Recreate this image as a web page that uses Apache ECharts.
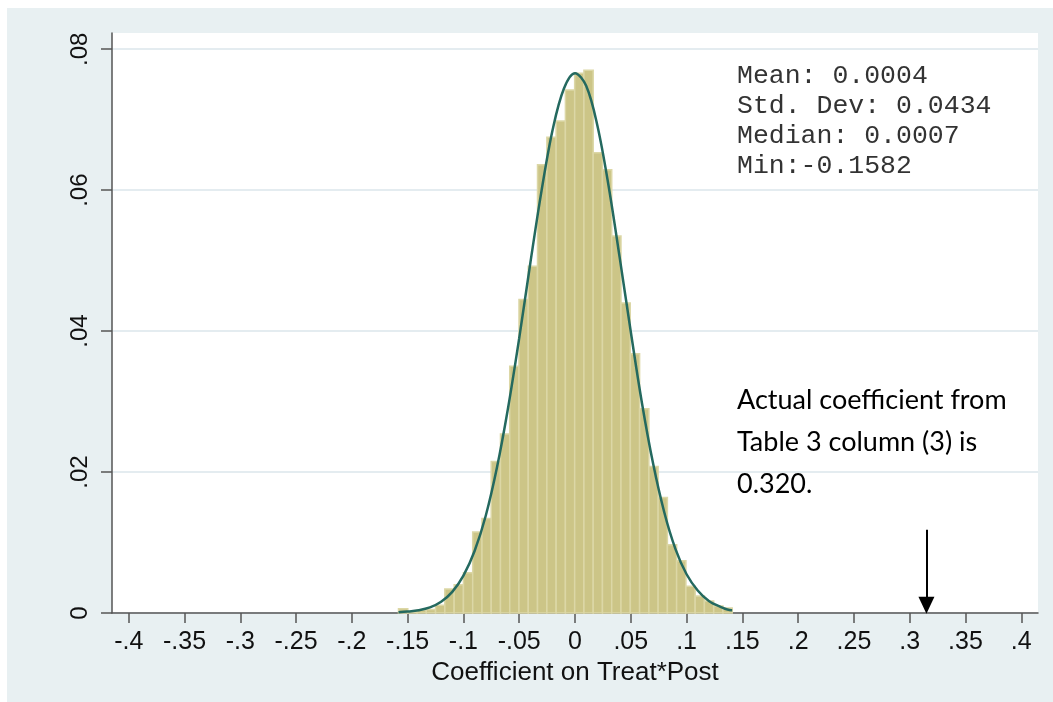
<!DOCTYPE html>
<html>
<head>
<meta charset="utf-8">
<script src="https://cdn.jsdelivr.net/npm/echarts@6/dist/echarts.min.js"></script>
<style>
  html, body { margin: 0; padding: 0; background: #fff; }
  #chart { width: 1053px; height: 702px; }
</style>
</head>
<body>
<div id="chart"></div>
<script>
// histogram bins: lower edge of each bin and fraction of draws in it
var binWidth = 0.00831;
var binEdges = [
  -0.1582, -0.1499, -0.1416, -0.1333, -0.1250, -0.1167, -0.1083, -0.1000, -0.0917,
  -0.0834, -0.0751, -0.0668, -0.0585, -0.0502, -0.0419, -0.0336, -0.0252, -0.0169,
  -0.0086, -0.0003, 0.0080, 0.0163, 0.0246, 0.0329, 0.0412, 0.0496, 0.0579,
  0.0662, 0.0745, 0.0828, 0.0911, 0.0994, 0.1077, 0.1160, 0.1243, 0.1326
];
var binFrac = [
  0.0006, 0.0002, 0.0004, 0.0005, 0.0011, 0.0034, 0.0040, 0.0057, 0.0115,
  0.0134, 0.0215, 0.0254, 0.0350, 0.0445, 0.0492, 0.0636, 0.0675, 0.0698,
  0.0742, 0.0766, 0.0770, 0.0653, 0.0629, 0.0535, 0.0440, 0.0368, 0.0290,
  0.0208, 0.0164, 0.0097, 0.0074, 0.0038, 0.0024, 0.0017, 0.0010, 0.0007
];

// normal density overlay
var curveX = [
  -0.1582, -0.15, -0.14, -0.13, -0.12, -0.11, -0.10, -0.09, -0.08, -0.07, -0.06,
  -0.05, -0.04, -0.03, -0.02, -0.01, 0, 0.01, 0.02, 0.03, 0.04, 0.05,
  0.06, 0.07, 0.08, 0.09, 0.10, 0.11, 0.12, 0.13, 0.14, 0.1409
];
var curveY = [
  0.0001, 0.0002, 0.0004, 0.0008, 0.0016, 0.0030, 0.0053, 0.0088, 0.0138, 0.0206, 0.0291,
  0.0390, 0.0497, 0.0599, 0.0686, 0.0744, 0.0766, 0.0748, 0.0692, 0.0607, 0.0505, 0.0399,
  0.0298, 0.0212, 0.0143, 0.0091, 0.0055, 0.0032, 0.0017, 0.0009, 0.0004, 0.0004
];

// axis ticks
var xTicks = [-0.4, -0.35, -0.3, -0.25, -0.2, -0.15, -0.1, -0.05, 0, 0.05, 0.1, 0.15, 0.2, 0.25, 0.3, 0.35, 0.4];
var xTickLabels = ['-.4', '-.35', '-.3', '-.25', '-.2', '-.15', '-.1', '-.05', '0', '.05', '.1', '.15', '.2', '.25', '.3', '.35', '.4'];
var yTicks = [0, 0.02, 0.04, 0.06, 0.08];
var yTickLabels = ['0', '.02', '.04', '.06', '.08'];

// arrow marking the actual coefficient
var arrowX = 0.315;
var arrowTop = 0.0118;
var arrowTip = 0.0011;

var statsText = 'Mean: 0.0004\nStd. Dev: 0.0434\nMedian: 0.0007\nMin:-0.1582';
var noteText = 'Actual coefficient from\nTable 3 column (3) is\n0.320.';

function pickLabel(ticks, labels) {
  return function (v) {
    for (var i = 0; i < ticks.length; i++) {
      if (Math.abs(ticks[i] - v) < 1e-9) return labels[i];
    }
    return '';
  };
}

var chart = echarts.init(document.getElementById('chart'), null, { renderer: 'canvas' });

var axisFont = 'Liberation Sans, Arial, sans-serif';

chart.setOption({
  animation: false,
  backgroundColor: '#e8f0f2',
  grid: {
    left: 112, top: 33, right: 15, bottom: 89,
    show: true, backgroundColor: '#ffffff', borderWidth: 0
  },
  xAxis: {
    type: 'value',
    min: -0.415, max: 0.415,
    name: 'Coefficient on Treat*Post',
    nameLocation: 'middle',
    nameGap: 40,
    nameTextStyle: { fontFamily: axisFont, fontSize: 26, color: '#111' },
    axisLine: { show: true, onZero: false, lineStyle: { color: '#555', width: 1.5 } },
    axisTick: { show: true, length: 10, customValues: xTicks, lineStyle: { color: '#555', width: 1.5 } },
    axisLabel: {
      customValues: xTicks, margin: 17,
      fontFamily: axisFont, fontSize: 25, color: '#111',
      formatter: pickLabel(xTicks, xTickLabels)
    },
    splitLine: { show: false }
  },
  yAxis: {
    type: 'value',
    min: 0, max: 0.0823, interval: 0.02,
    axisLine: { show: true, onZero: false, lineStyle: { color: '#555', width: 1.5 } },
    axisTick: { show: true, length: 11, customValues: yTicks, lineStyle: { color: '#555', width: 1.5 } },
    axisLabel: {
      customValues: yTicks, rotate: 90, margin: 20,
      fontFamily: axisFont, fontSize: 24, color: '#111',
      formatter: pickLabel(yTicks, yTickLabels)
    },
    splitLine: { show: true, lineStyle: { color: '#e4ecf0', width: 2 } }
  },
  graphic: [
    { type: 'rect', left: 0, top: 0, shape: { width: 1053, height: 8 }, style: { fill: '#fff' }, silent: true },
    { type: 'rect', left: 0, top: 0, shape: { width: 7, height: 702 }, style: { fill: '#fff' }, silent: true },
    {
      type: 'text', left: 737, top: 61, z: 10,
      style: {
        text: statsText, fontFamily: 'Liberation Mono, Courier New, monospace',
        fontSize: 26.5, lineHeight: 30, fill: '#333'
      }
    },
    {
      type: 'text', left: 737, top: 379, z: 10,
      style: {
        text: noteText, fontFamily: 'Lato, Carlito, sans-serif',
        fontSize: 27, lineHeight: 42, fill: '#000'
      }
    }
  ],
  series: [
    {
      type: 'custom',
      name: 'hist',
      data: binEdges.map(function (e, i) { return [e, binFrac[i]]; }),
      encode: { x: 0, y: 1 },
      renderItem: function (params, api) {
        var x0 = api.value(0);
        var h = api.value(1);
        var p0 = api.coord([x0, h]);
        var p1 = api.coord([x0 + binWidth, 0]);
        return {
          type: 'rect',
          shape: { x: p0[0], y: p0[1], width: p1[0] - p0[0], height: p1[1] - p0[1] },
          style: { fill: '#ccc587', stroke: '#dcd7a6', lineWidth: 1.5 }
        };
      },
      z: 2
    },
    {
      type: 'line',
      name: 'normal',
      data: curveX.map(function (x, i) { return [x, curveY[i]]; }),
      smooth: 0.35,
      showSymbol: false,
      lineStyle: { color: '#24695f', width: 2.5 },
      z: 3,
      markLine: {
        silent: true,
        symbol: ['none', 'triangle'],
        symbolSize: [16, 17],
        label: { show: false },
        lineStyle: { color: '#000', width: 2, type: 'solid' },
        data: [[{ coord: [arrowX, arrowTop] }, { coord: [arrowX, arrowTip] }]]
      }
    }
  ]
});
</script>
</body>
</html>
